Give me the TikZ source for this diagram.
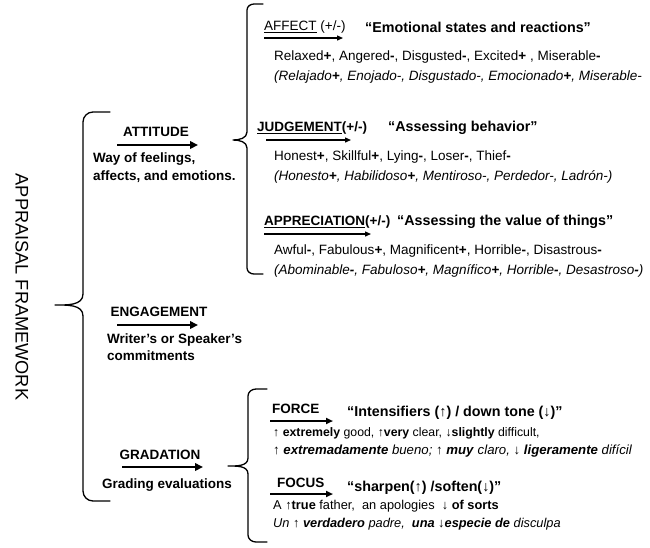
\documentclass[tikz,border=0pt]{standalone}
\usepackage{fontspec}
\setmainfont{Liberation Sans}
\usetikzlibrary{arrows.meta}
\newcommand\bplus{\textbf{+}}
\newcommand\bminus{\textbf{-}}
\begin{document}
\begin{tikzpicture}[x=1pt,y=-1pt,
  bracebar/.style={line width=1.3pt, line join=round, line cap=round},
  bigarrow/.style={line width=2.4pt, -{Triangle[length=8pt,width=7.5pt]}},
  midarrow/.style={line width=1.9pt, -{Triangle[length=7pt,width=6pt]}},
  smallarrow/.style={line width=1.3pt, -{Triangle[length=6pt,width=5pt]}},
  lbl/.style={font=\fontsize{13.5}{16}\selectfont\bfseries, inner sep=0pt},
  desc/.style={font=\fontsize{13.5}{16}\selectfont\bfseries, inner sep=0pt, anchor=west},
  sublbl/.style={font=\fontsize{13.5}{16}\selectfont\bfseries, inner sep=0pt, anchor=west},
  headq/.style={font=\fontsize{14.3}{17}\selectfont\bfseries, inner sep=0pt, anchor=west},
  rowtxt/.style={font=\fontsize{13.5}{16}\selectfont, inner sep=0pt, anchor=west},
  gradrow/.style={font=\fontsize{12.8}{15}\selectfont, inner sep=0pt, anchor=west}]
\useasboundingbox (0,0) rectangle (650,547);

% Title
\node[font=\fontsize{18.2}{20}\selectfont, rotate=-90, inner sep=0pt] (title) at (22,287) {APPRAISAL FRAMEWORK};

% Main brace
\draw[bracebar] (110,112) -- (93,112) to[out=180,in=90] (83,122) -- (83,294)
  to[out=-90,in=0] (55,305) to[out=0,in=90] (83,316) -- (83,491)
  to[out=-90,in=180] (93,501) -- (110,501);

% ATTITUDE
\node[lbl] (att) at (156,132) {ATTITUDE};
\coordinate (attA) at (117,145); \coordinate (attB) at (198,145);
\draw[bigarrow] (attA) -- (attB);
\node[desc] (attd1) at (93,159) {Way of feelings,};
\node[desc] (attd2) at (93,177) {affects, and emotions.};

% ENGAGEMENT
\node[lbl] (eng) at (159,312) {ENGAGEMENT};
\coordinate (engA) at (117,325); \coordinate (engB) at (198,325);
\draw[bigarrow] (engA) -- (engB);
\node[desc] (engd1) at (107,340) {Writer’s or Speaker’s};
\node[desc] (engd2) at (107,356) {commitments};

% GRADATION
\node[lbl] (grad) at (160,455) {GRADATION};
\coordinate (gradA) at (122,467); \coordinate (gradB) at (203,467);
\draw[bigarrow] (gradA) -- (gradB);
\node[desc] (gradd) at (102,485) {Grading evaluations};

% Attitude brace
\draw[bracebar] (263,4) -- (254,4) to[out=180,in=90] (247,10) -- (247,132)
  to[out=-90,in=0] (233,140) to[out=0,in=90] (247,148) -- (247,268)
  to[out=-90,in=180] (254,274) -- (263,274);

% Gradation brace
\draw[bracebar] (267,389) -- (256,389) to[out=180,in=90] (248,396) -- (248,458)
  to[out=-90,in=0] (228,466) to[out=0,in=90] (248,474) -- (248,535)
  to[out=-90,in=180] (256,542) -- (267,542);

% AFFECT
\node[sublbl, font=\fontsize{13.5}{16}\selectfont] (aff) at (264,27) {\underline{AFFECT} (+/-)};
\coordinate (affA) at (264,38); \coordinate (affB) at (343,38);
\draw[smallarrow] (affA) -- (affB);
\node[headq] (affq) at (365,27) {“Emotional states and reactions”};
\node[rowtxt] (aff1) at (274,57) {Relaxed\bplus, Angered\bminus, Disgusted\bminus, Excited\bplus{} , Miserable\bminus};
\node[rowtxt, font=\fontsize{13.5}{16}\selectfont\itshape] (aff2) at (274,77) {(Relajado\bplus, Enojado-, Disgustado-, Emocionado\bplus, Miserable-};

% JUDGEMENT
\node[sublbl] (jud) at (257,128) {\underline{JUDGEMENT}(+/-)};
\coordinate (judA) at (266,140); \coordinate (judB) at (351,140);
\draw[smallarrow] (judA) -- (judB);
\node[headq] (judq) at (388,128) {“Assessing behavior”};
\node[rowtxt] (jud1) at (274,157) {Honest\bplus, Skillful\bplus, Lying\bminus, Loser\bminus, Thief\bminus};
\node[rowtxt, font=\fontsize{13.5}{16}\selectfont\itshape] (jud2) at (274,177) {(Honesto\bplus, Habilidoso\bplus, Mentiroso-, Perdedor-, Ladrón-)};

% APPRECIATION
\node[sublbl] (app) at (264,222) {\underline{APPRECIATION}(+/-)};
\coordinate (appA) at (264,234); \coordinate (appB) at (371,234);
\draw[smallarrow] (appA) -- (appB);
\node[headq] (appq) at (397,222) {“Assessing the value of things”};
\node[rowtxt] (app1) at (274,251) {Awful\bminus, Fabulous\bplus, Magnificent\bplus, Horrible\bminus, Disastrous\bminus};
\node[rowtxt, font=\fontsize{13.5}{16}\selectfont\itshape] (app2) at (274,271) {(Abominable\bminus, Fabuloso\bplus, Magnífico\bplus, Horrible\bminus, Desastroso\bminus)};

% FORCE
\node[sublbl] (force) at (272,409) {FORCE};
\coordinate (forA) at (270,421); \coordinate (forB) at (333,421);
\draw[midarrow] (forA) -- (forB);
\node[headq] (forq) at (347,413) {“Intensifiers (↑) / down tone (↓)”};
\node[gradrow, font=\fontsize{12.3}{14}\selectfont] (for1) at (273,433) {↑ \textbf{extremely} good, ↑\textbf{very} clear, ↓\textbf{slightly} difficult,};
\node[gradrow, font=\fontsize{13.2}{15}\selectfont] (for2) at (273,451) {↑ \textbf{\textit{extremadamente}} \textit{bueno;} ↑ \textbf{\textit{muy}} \textit{claro,} ↓ \textbf{\textit{ligeramente}} \textit{difícil}};

% FOCUS
\node[sublbl] (focus) at (277,483) {FOCUS};
\coordinate (focA) at (270,494); \coordinate (focB) at (333,494);
\draw[midarrow] (focA) -- (focB);
\node[headq] (focq) at (347,488) {“sharpen(↑) /soften(↓)”};
\node[gradrow] (foc1) at (273,506) {A ↑\textbf{true} father,\ \ an apologies\ \ ↓ \textbf{of sorts}};
\node[gradrow, font=\fontsize{12.8}{15}\selectfont\itshape] (foc2) at (273,524) {Un ↑ \textbf{verdadero} padre,\ \ \textbf{una} ↓\textbf{especie de} disculpa};
\end{tikzpicture}
\end{document}
